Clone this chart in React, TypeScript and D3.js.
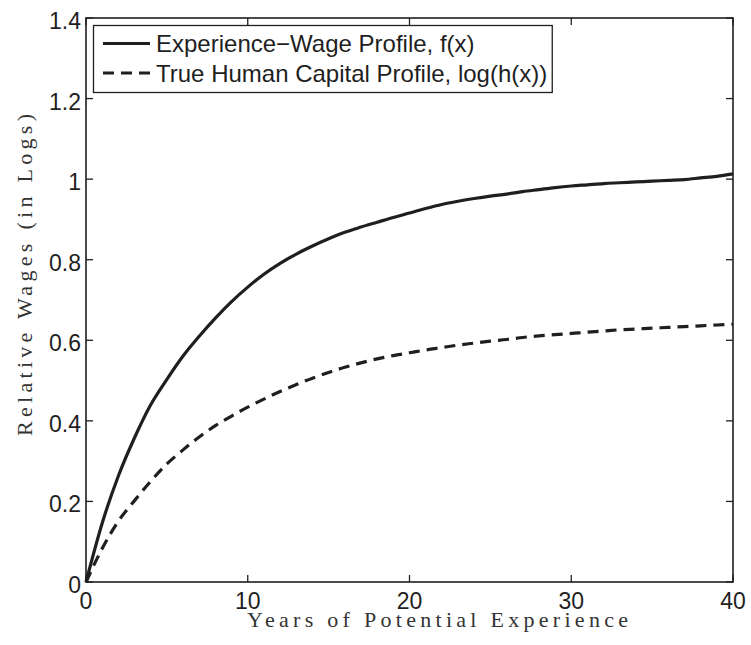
import React, { useEffect, useRef } from "react";
import * as d3 from "d3";

// Years of potential experience
const years = [
  0, 1, 2, 3, 4, 5, 6, 7, 8, 9, 10, 11, 12, 13, 14, 15, 16, 17, 18, 19, 20,
  21, 22, 23, 24, 25, 26, 27, 28, 29, 30, 31, 32, 33, 34, 35, 36, 37, 38, 39, 40,
];

// Experience-wage profile f(x)
const experienceWage = [
  0, 0.146, 0.263, 0.358, 0.44, 0.503, 0.561, 0.61, 0.655, 0.696, 0.732, 0.764,
  0.791, 0.814, 0.834, 0.852, 0.868, 0.881, 0.893, 0.905, 0.916, 0.927, 0.937,
  0.945, 0.952, 0.958, 0.963, 0.969, 0.974, 0.979, 0.983, 0.986, 0.989, 0.991,
  0.993, 0.995, 0.997, 0.999, 1.003, 1.007, 1.013,
];

// True human capital profile log(h(x))
const humanCapital = [
  0, 0.083, 0.151, 0.202, 0.25, 0.293, 0.328, 0.36, 0.388, 0.412, 0.434, 0.454,
  0.473, 0.49, 0.506, 0.52, 0.533, 0.544, 0.554, 0.562, 0.569, 0.576, 0.582,
  0.588, 0.593, 0.598, 0.602, 0.607, 0.611, 0.614, 0.617, 0.62, 0.623, 0.626,
  0.628, 0.63, 0.632, 0.634, 0.636, 0.638, 0.64,
];

const xTicks = [0, 10, 20, 30, 40];
const yTicks = [0, 0.2, 0.4, 0.6, 0.8, 1, 1.2, 1.4];

const seriesNames = [
  "Experience\u2212Wage Profile, f(x)",
  "True Human Capital Profile, log(h(x))",
];

const xTitle = "Years of Potential Experience";
const yTitle = "Relative Wages (in Logs)";

const W = 751;
const H = 645;
const M = { left: 86, right: 733, top: 18, bottom: 582 };
const SANS = "'Liberation Sans', Arial, Helvetica, sans-serif";
const SERIF = "'Liberation Serif', 'Times New Roman', serif";
const INK = "#1f1f1f";
const DASH = "11,7";

export default function App() {
  const ref = useRef<SVGSVGElement | null>(null);

  useEffect(() => {
    const svg = d3.select(ref.current);
    svg.selectAll("*").remove();

    const x = d3.scaleLinear().domain([0, 40]).range([M.left, M.right]);
    const y = d3.scaleLinear().domain([0, 1.4]).range([M.bottom, M.top]);

    svg.append("rect").attr("width", W).attr("height", H).attr("fill", "#fff");

    // Curves
    const series = [
      { values: experienceWage, dash: null as string | null },
      { values: humanCapital, dash: DASH },
    ];
    const line = d3
      .line<number>()
      .x((_, i) => x(years[i]))
      .y((d) => y(d))
      .curve(d3.curveMonotoneX);

    series.forEach((s) => {
      svg
        .append("path")
        .attr("d", line(s.values) as string)
        .attr("fill", "none")
        .attr("stroke", INK)
        .attr("stroke-width", 3.2)
        .attr("stroke-dasharray", s.dash ?? null);
    });

    // Axes box with inward ticks on all sides
    const tickLen = 7;
    const g = svg.append("g").attr("stroke", INK).attr("stroke-width", 1.3);
    xTicks.forEach((t) => {
      g.append("line").attr("x1", x(t)).attr("x2", x(t)).attr("y1", M.bottom).attr("y2", M.bottom - tickLen);
      g.append("line").attr("x1", x(t)).attr("x2", x(t)).attr("y1", M.top).attr("y2", M.top + tickLen);
    });
    yTicks.forEach((t) => {
      g.append("line").attr("x1", M.left).attr("x2", M.left + tickLen).attr("y1", y(t)).attr("y2", y(t));
      g.append("line").attr("x1", M.right).attr("x2", M.right - tickLen).attr("y1", y(t)).attr("y2", y(t));
    });
    g.append("rect")
      .attr("x", M.left)
      .attr("y", M.top)
      .attr("width", M.right - M.left)
      .attr("height", M.bottom - M.top)
      .attr("fill", "none")
      .attr("stroke-width", 1.6);

    // Tick labels
    const fmt = (v: number) => (v === 0 ? "0" : d3.format("~g")(v));
    svg
      .append("g")
      .selectAll("text")
      .data(xTicks)
      .join("text")
      .attr("x", (d) => x(d))
      .attr("y", 609)
      .attr("text-anchor", "middle")
      .attr("font-family", SANS)
      .attr("font-size", 23)
      .attr("fill", INK)
      .text((d) => fmt(d));

    svg
      .append("g")
      .selectAll("text")
      .data(yTicks)
      .join("text")
      .attr("x", 81)
      .attr("y", (d) => y(d) + 11)
      .attr("text-anchor", "end")
      .attr("font-family", SANS)
      .attr("font-size", 23)
      .attr("fill", INK)
      .text((d) => fmt(d));

    // Axis titles
    svg
      .append("text")
      .attr("x", 247)
      .attr("y", 627)
      .attr("font-family", SERIF)
      .attr("font-size", 22)
      .attr("fill", "#333")
      .attr("textLength", 381)
      .attr("lengthAdjust", "spacing")
      .text(xTitle);

    svg
      .append("text")
      .attr("transform", "translate(32,436) rotate(-90)")
      .attr("x", 0)
      .attr("y", 0)
      .attr("font-family", SERIF)
      .attr("font-size", 22)
      .attr("fill", "#333")
      .attr("textLength", 322)
      .attr("lengthAdjust", "spacing")
      .text(yTitle);

    // Legend
    const lg = svg.append("g");
    const box = lg
      .append("rect")
      .attr("x", 93.5)
      .attr("y", 25.5)
      .attr("height", 67)
      .attr("fill", "#fff")
      .attr("stroke", INK)
      .attr("stroke-width", 1.3);
    const rows = [43.5, 73];
    let maxW = 0;
    seriesNames.forEach((name, i) => {
      lg.append("line")
        .attr("x1", 103)
        .attr("x2", 150)
        .attr("y1", rows[i])
        .attr("y2", rows[i])
        .attr("stroke", INK)
        .attr("stroke-width", 3)
        .attr("stroke-dasharray", series[i].dash ?? null);
      const t = lg
        .append("text")
        .attr("x", 156)
        .attr("y", rows[i] + 8.5)
        .attr("font-family", SANS)
        .attr("font-size", 24)
        .attr("fill", INK)
        .text(name);
      const node = t.node() as SVGTextElement;
      maxW = Math.max(maxW, node.getComputedTextLength());
    });
    box.attr("width", 156 + maxW + 5 - 93.5);
  }, []);

  return (
    <svg
      ref={ref}
      width={W}
      height={H}
      style={{ display: "block", position: "absolute", left: 0, top: 0 }}
    />
  );
}
